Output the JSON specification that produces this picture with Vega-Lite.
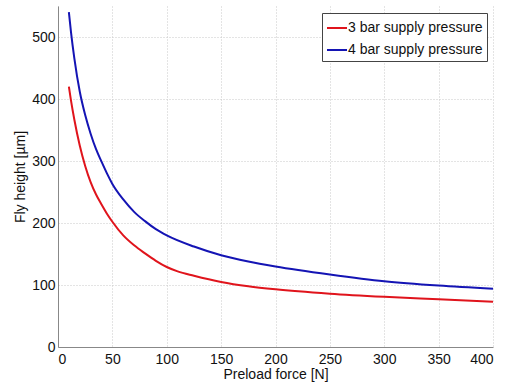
{
  "$schema": "https://vega.github.io/schema/vega-lite/v6.json",
  "width": 435,
  "height": 341,
  "autosize": {"type": "none"},
  "padding": {"left": 58, "top": 6, "right": 15, "bottom": 38},
  "background": "white",
  "config": {
    "view": {"stroke": null},
    "font": "Liberation Sans",
    "axis": {
      "labelFont": "Liberation Sans",
      "titleFont": "Liberation Sans",
      "labelFontSize": 14,
      "titleFontSize": 14,
      "titleFontWeight": "normal",
      "labelColor": "#111",
      "titleColor": "#111",
      "domainColor": "#888",
      "ticks": false,
      "gridColor": "#c8c8c8",
      "gridDash": [1, 2],
      "gridWidth": 1
    }
  },
  "data": {
    "values": [
      {"force": 10, "height": 420, "series": "3 bar supply pressure"},
      {"force": 12, "height": 397, "series": "3 bar supply pressure"},
      {"force": 15, "height": 367, "series": "3 bar supply pressure"},
      {"force": 20, "height": 325, "series": "3 bar supply pressure"},
      {"force": 25, "height": 292, "series": "3 bar supply pressure"},
      {"force": 30, "height": 266, "series": "3 bar supply pressure"},
      {"force": 35, "height": 246, "series": "3 bar supply pressure"},
      {"force": 40, "height": 230, "series": "3 bar supply pressure"},
      {"force": 45, "height": 215, "series": "3 bar supply pressure"},
      {"force": 50, "height": 202, "series": "3 bar supply pressure"},
      {"force": 60, "height": 180, "series": "3 bar supply pressure"},
      {"force": 70, "height": 164, "series": "3 bar supply pressure"},
      {"force": 80, "height": 151, "series": "3 bar supply pressure"},
      {"force": 90, "height": 139, "series": "3 bar supply pressure"},
      {"force": 100, "height": 129, "series": "3 bar supply pressure"},
      {"force": 110, "height": 122, "series": "3 bar supply pressure"},
      {"force": 125, "height": 115, "series": "3 bar supply pressure"},
      {"force": 150, "height": 105, "series": "3 bar supply pressure"},
      {"force": 175, "height": 98, "series": "3 bar supply pressure"},
      {"force": 200, "height": 93, "series": "3 bar supply pressure"},
      {"force": 250, "height": 86, "series": "3 bar supply pressure"},
      {"force": 300, "height": 81, "series": "3 bar supply pressure"},
      {"force": 350, "height": 77, "series": "3 bar supply pressure"},
      {"force": 400, "height": 73, "series": "3 bar supply pressure"},
      {"force": 10, "height": 540, "series": "4 bar supply pressure"},
      {"force": 12, "height": 507, "series": "4 bar supply pressure"},
      {"force": 15, "height": 466, "series": "4 bar supply pressure"},
      {"force": 20, "height": 412, "series": "4 bar supply pressure"},
      {"force": 25, "height": 374, "series": "4 bar supply pressure"},
      {"force": 30, "height": 344, "series": "4 bar supply pressure"},
      {"force": 35, "height": 319, "series": "4 bar supply pressure"},
      {"force": 40, "height": 299, "series": "4 bar supply pressure"},
      {"force": 45, "height": 280, "series": "4 bar supply pressure"},
      {"force": 50, "height": 263, "series": "4 bar supply pressure"},
      {"force": 60, "height": 238, "series": "4 bar supply pressure"},
      {"force": 70, "height": 218, "series": "4 bar supply pressure"},
      {"force": 80, "height": 203, "series": "4 bar supply pressure"},
      {"force": 90, "height": 190, "series": "4 bar supply pressure"},
      {"force": 100, "height": 180, "series": "4 bar supply pressure"},
      {"force": 125, "height": 162, "series": "4 bar supply pressure"},
      {"force": 150, "height": 148, "series": "4 bar supply pressure"},
      {"force": 175, "height": 138, "series": "4 bar supply pressure"},
      {"force": 200, "height": 130, "series": "4 bar supply pressure"},
      {"force": 250, "height": 117, "series": "4 bar supply pressure"},
      {"force": 300, "height": 106, "series": "4 bar supply pressure"},
      {"force": 350, "height": 99, "series": "4 bar supply pressure"},
      {"force": 400, "height": 94, "series": "4 bar supply pressure"}
    ]
  },
  "mark": {"type": "line", "interpolate": "monotone", "strokeWidth": 2},
  "encoding": {
    "x": {
      "field": "force",
      "type": "quantitative",
      "scale": {"domain": [0, 400], "nice": false},
      "axis": {"values": [0, 50, 100, 150, 200, 250, 300, 350, 400], "title": "Preload force [N]", "titlePadding": 1, "labelPadding": 5}
    },
    "y": {
      "field": "height",
      "type": "quantitative",
      "scale": {"domain": [0, 550], "nice": false},
      "axis": {"values": [0, 100, 200, 300, 400, 500], "title": "Fly height [µm]", "titlePadding": 4, "labelPadding": 3}
    },
    "color": {
      "field": "series",
      "type": "nominal",
      "scale": {"domain": ["3 bar supply pressure", "4 bar supply pressure"], "range": ["#e0141c", "#1414b4"]},
      "legend": {
        "title": null,
        "orient": "none",
        "legendX": 264,
        "legendY": 7,
        "symbolType": "stroke",
        "symbolStrokeWidth": 2,
        "symbolSize": 400,
        "labelFontSize": 14,
        "labelFont": "Liberation Sans",
        "labelColor": "#111",
        "strokeColor": "#444",
        "fillColor": "white",
        "padding": 4,
        "rowPadding": 4,
        "labelOffset": 0
      }
    }
  }
}
